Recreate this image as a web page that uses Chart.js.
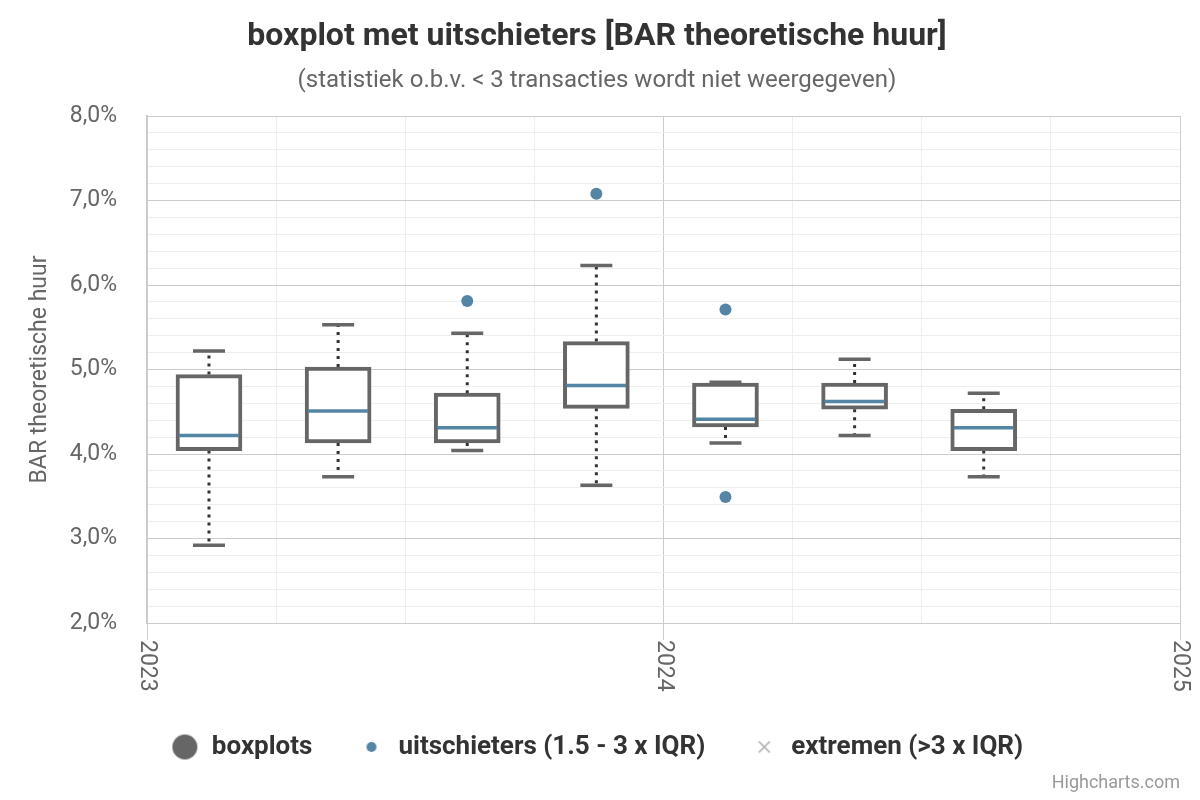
<!DOCTYPE html>
<html>
<head>
<meta charset="utf-8">
<script src="https://cdn.jsdelivr.net/npm/chart.js@4/dist/chart.umd.min.js"></script>
<style>
html, body { margin: 0; padding: 0; background: #fff; }
</style>
</head>
<body>
<canvas id="boxplot" width="1200" height="800"></canvas>
<script>
// posities op de tijdas (midden van elk kwartaal)
const posities = [2023.12, 2023.37, 2023.62, 2023.87, 2024.12, 2024.37, 2024.62];
const minima   = [2.92, 3.73, 4.04, 3.63, 4.13, 4.22, 3.73];
const q1       = [4.04, 4.13, 4.13, 4.54, 4.32, 4.53, 4.04];
const medianen = [4.22, 4.51, 4.31, 4.81, 4.41, 4.62, 4.31];
const q3       = [4.94, 5.03, 4.72, 5.33, 4.84, 4.84, 4.53];
const maxima   = [5.22, 5.53, 5.43, 6.23, 4.85, 5.12, 4.72];

const uitschieterX = [2023.62, 2023.87, 2024.12, 2024.12];
const uitschieterY = [5.81, 7.08, 5.71, 3.49];
const extremenX = [];
const extremenY = [];

const jaarLabels = [2023, 2024, 2025];
const legendaTeksten = ['boxplots', 'uitschieters (1.5 - 3 x IQR)', 'extremen (>3 x IQR)'];

const BOX_KLEUR = '#666666';
const MEDIAAN_KLEUR = '#5585a5';
const FONT = 'Roboto, "Open Sans", sans-serif';

Chart.defaults.font.family = FONT;

function isHeel(v) {
    return Math.abs(v - Math.round(v)) < 1e-6;
}

// kleine canvasjes als legendasymbool
function maakMarker(vorm, straal, kleur) {
    const c = document.createElement('canvas');
    const s = Math.ceil(straal * 2 + 4);
    c.width = s;
    c.height = s;
    const g = c.getContext('2d');
    const m = s / 2;
    if (vorm === 'kruis') {
        g.strokeStyle = kleur;
        g.lineWidth = 1.5;
        g.beginPath();
        g.moveTo(m - straal, m - straal); g.lineTo(m + straal, m + straal);
        g.moveTo(m + straal, m - straal); g.lineTo(m - straal, m + straal);
        g.stroke();
    } else {
        g.fillStyle = kleur;
        g.beginPath();
        g.arc(m, m, straal, 0, Math.PI * 2);
        g.fill();
    }
    return c;
}
const markers = [
    maakMarker('cirkel', 12.5, BOX_KLEUR),
    maakMarker('cirkel', 5, MEDIAAN_KLEUR),
    maakMarker('kruis', 5.5, '#aaaaaa')
];

const boxplotPlugin = {
    id: 'boxplot',
    beforeDatasetsDraw(chart) {
        const ctx = chart.ctx;
        const xs = chart.scales.x, ys = chart.scales.y;
        ctx.save();
        posities.forEach((p, i) => {
            const x = xs.getPixelForValue(p);
            // snorharen (gestippeld)
            ctx.strokeStyle = '#333333';
            ctx.lineWidth = 3;
            ctx.setLineDash([3, 5]);
            ctx.beginPath();
            ctx.moveTo(x, ys.getPixelForValue(q3[i]));
            ctx.lineTo(x, ys.getPixelForValue(maxima[i]));
            ctx.moveTo(x, ys.getPixelForValue(q1[i]));
            ctx.lineTo(x, ys.getPixelForValue(minima[i]));
            ctx.stroke();
            // uiteinden
            ctx.setLineDash([]);
            ctx.strokeStyle = BOX_KLEUR;
            ctx.lineWidth = 3.5;
            ctx.beginPath();
            ctx.moveTo(x - 16, ys.getPixelForValue(maxima[i]));
            ctx.lineTo(x + 16, ys.getPixelForValue(maxima[i]));
            ctx.moveTo(x - 16, ys.getPixelForValue(minima[i]));
            ctx.lineTo(x + 16, ys.getPixelForValue(minima[i]));
            ctx.stroke();
        });
        ctx.restore();
    },
    afterDatasetsDraw(chart) {
        const ctx = chart.ctx;
        const xs = chart.scales.x, ys = chart.scales.y;
        ctx.save();
        ctx.strokeStyle = MEDIAAN_KLEUR;
        ctx.lineWidth = 3.5;
        posities.forEach((p, i) => {
            const x = xs.getPixelForValue(p);
            const y = ys.getPixelForValue(medianen[i]);
            ctx.beginPath();
            ctx.moveTo(x - 30, y);
            ctx.lineTo(x + 30, y);
            ctx.stroke();
        });
        ctx.restore();
    },
    afterDraw(chart) {
        const ctx = chart.ctx;
        const xs = chart.scales.x;
        ctx.save();
        // jaartallen, 90 graden gedraaid
        ctx.fillStyle = '#666666';
        ctx.font = '23px ' + FONT;
        ctx.textAlign = 'left';
        ctx.textBaseline = 'middle';
        jaarLabels.forEach(j => {
            ctx.save();
            ctx.translate(xs.getPixelForValue(j), chart.chartArea.bottom + 17);
            ctx.rotate(Math.PI / 2);
            ctx.fillText(String(j), 0, 0);
            ctx.restore();
        });
        // credits
        ctx.fillStyle = '#999999';
        ctx.font = '18px ' + FONT;
        ctx.textAlign = 'right';
        ctx.fillText('Highcharts.com', 1180, 783);
        ctx.restore();
    }
};

const ctx = document.getElementById('boxplot').getContext('2d');
const myChart = new Chart(ctx, {
    type: 'bar',
    data: {
        datasets: [{
            label: legendaTeksten[0],
            data: posities.map((p, i) => ({ x: p, y: [q1[i], q3[i]] })),
            backgroundColor: '#ffffff',
            borderColor: BOX_KLEUR,
            borderWidth: 4,
            borderSkipped: false,
            barThickness: 66,
            grouped: false,
            order: 2
        }, {
            type: 'scatter',
            label: legendaTeksten[1],
            data: uitschieterX.map((x, i) => ({ x: x, y: uitschieterY[i] })),
            backgroundColor: MEDIAAN_KLEUR,
            borderWidth: 0,
            pointRadius: 6,
            order: 1
        }, {
            type: 'scatter',
            label: legendaTeksten[2],
            data: extremenX.map((x, i) => ({ x: x, y: extremenY[i] })),
            pointStyle: 'crossRot',
            borderColor: '#aaaaaa',
            pointRadius: 6,
            order: 1
        }]
    },
    options: {
        responsive: false,
        animation: false,
        devicePixelRatio: 1,
        layout: {
            padding: { left: 14, right: 20, top: 0, bottom: 30 }
        },
        plugins: {
            title: {
                display: true,
                text: 'boxplot met uitschieters [BAR theoretische huur]',
                color: '#333333',
                font: { size: 32, weight: 'bold' },
                padding: { top: 18, bottom: 4 }
            },
            subtitle: {
                display: true,
                text: '(statistiek o.b.v. < 3 transacties wordt niet weergegeven)',
                color: '#666666',
                font: { size: 24 },
                padding: { top: 6.2, bottom: 20.6 }
            },
            legend: {
                display: true,
                position: 'bottom',
                onClick: () => {},
                labels: {
                    usePointStyle: true,
                    pointStyleWidth: 28,
                    padding: 45,
                    color: '#333333',
                    font: { size: 26, weight: 'bold' },
                    generateLabels: chart => chart.data.datasets.map((ds, i) => ({
                        text: ds.label,
                        pointStyle: markers[i],
                        fillStyle: 'transparent',
                        strokeStyle: 'transparent',
                        lineWidth: 0,
                        hidden: false,
                        datasetIndex: i,
                        fontColor: '#333333'
                    }))
                }
            },
            tooltip: { enabled: false }
        },
        scales: {
            x: {
                type: 'linear',
                min: 2023,
                max: 2025,
                offset: false,
                afterFit: scale => { scale.height = 66; },
                ticks: {
                    display: false,
                    stepSize: 0.25,
                    autoSkip: false
                },
                grid: {
                    offset: false,
                    color: c => isHeel(c.tick.value) ? '#cccccc' : '#eeeeee',
                    tickColor: c => isHeel(c.tick.value) ? '#cccccc' : 'rgba(0,0,0,0)',
                    tickLength: 17,
                    lineWidth: 1
                },
                border: { color: '#cccccc', width: 1 }
            },
            y: {
                type: 'linear',
                min: 2,
                max: 8,
                afterFit: scale => { scale.width = 133; },
                ticks: {
                    stepSize: 0.2,
                    autoSkip: false,
                    padding: 30,
                    color: '#666666',
                    font: { size: 23 },
                    callback: v => isHeel(v) ? v.toFixed(1).replace('.', ',') + '%' : ''
                },
                title: {
                    display: true,
                    text: 'BAR theoretische huur',
                    color: '#666666',
                    font: { size: 23 },
                    padding: { top: 12, bottom: 0 }
                },
                grid: {
                    drawTicks: false,
                    color: c => isHeel(c.tick.value) ? '#cccccc' : '#eeeeee',
                    lineWidth: 1
                },
                border: { color: '#cccccc', width: 2 }
            }
        }
    },
    plugins: [boxplotPlugin]
});
</script>
</body>
</html>
